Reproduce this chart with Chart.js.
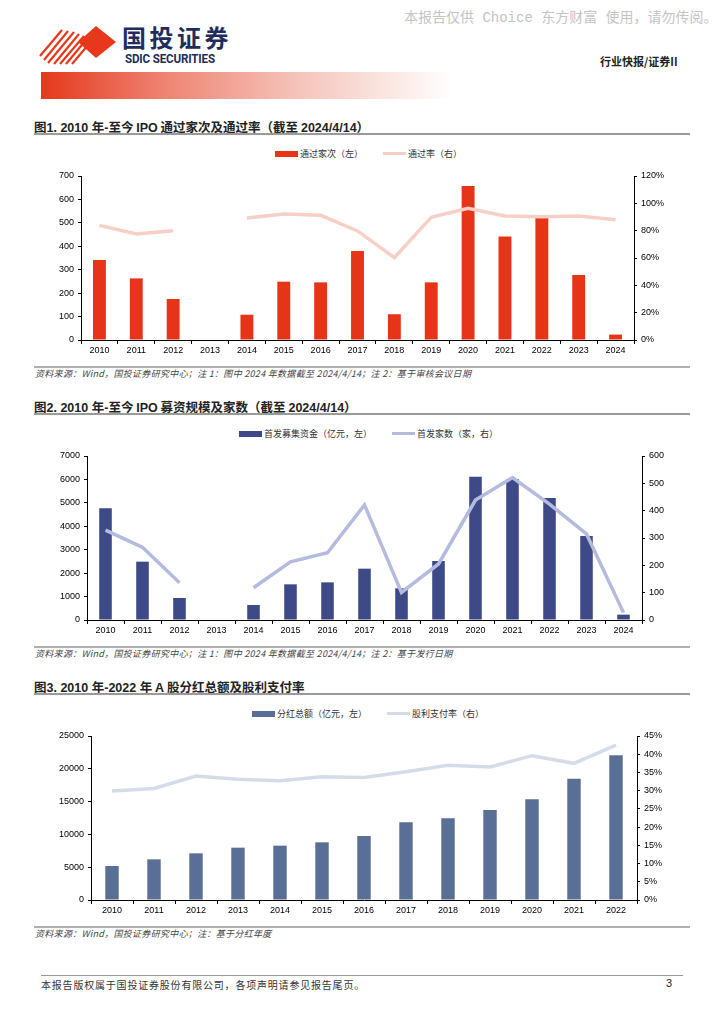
<!DOCTYPE html>
<html lang="zh-CN">
<head>
<meta charset="UTF-8">
<title>行业快报 | 证券II</title>
<script src="https://cdn.jsdelivr.net/npm/chart.js"></script>
<style>
  body { margin:0; width:724px; height:1024px; position:relative; background:#fff; overflow:hidden;
         font-family:"Noto Sans CJK SC", sans-serif; color:#222; }
  .abs { position:absolute; white-space:nowrap; }
  .marca { left:404px; top:6px; font-family:"Liberation Mono","Noto Sans CJK SC"; font-size:14px; color:#c4c4c4; }
  .nome { left:122px; top:20px; font-size:24px; font-weight:bold; color:#1f2d5c; letter-spacing:3.5px; line-height:34px; }
  .nomeEn { left:125px; top:51px; font-family:Roboto,"Liberation Sans"; font-size:13.5px; font-weight:bold; color:#1f2d5c;
            transform:scaleX(0.86); transform-origin:left top; letter-spacing:-0.2px; line-height:14px; }
  .secao { left:600px; top:53px; font-size:11px; font-weight:bold; color:#222; }
  .faixa { left:41px; top:72px; width:412px; height:27px;
           background:linear-gradient(to right, #e5381c 0%, #ee8472 30%, #f5c3b9 62%, #ffffff 100%); }
  .titulo { left:34px; font-size:12.5px; font-weight:bold; color:#222; }
  .titulo b { font-family:"Liberation Sans"; }
  .linha { left:34px; width:656px; height:2px; background:#9a9a9a; }
  .legenda { font-size:9px; color:#333; display:flex; align-items:center; }
  .legenda i { display:inline-block; width:23px; margin-right:2px; }
  .fonte { left:35px; font-size:9px; font-style:italic; color:#444; letter-spacing:0.3px; }
  .grafico { left:30px; width:660px; height:200px; }
  .rodape { left:41px; top:977px; font-size:10px; color:#333; letter-spacing:0.8px; }
</style>
</head>
<body>
  <div class="abs marca">本报告仅供 Choice 东方财富 使用，请勿传阅。</div>

  <svg class="abs" style="left:0;top:0" width="125" height="70">
    <g stroke="#e8381b" stroke-width="2.2">
      <line x1="40" y1="56" x2="62" y2="30"/>
      <line x1="44" y1="60" x2="68" y2="31"/>
      <line x1="48" y1="63" x2="74" y2="32"/>
      <line x1="54" y1="64" x2="79" y2="34"/>
      <line x1="60" y1="64" x2="84" y2="36"/>
      <line x1="66" y1="64" x2="86" y2="40"/>
      <line x1="72" y1="64" x2="88" y2="45"/>
    </g>
    <polygon points="96,26 116,42 96,58 78,42" fill="#e8381b"/>
  </svg>
  <div class="abs nome">国投证券</div>
  <div class="abs nomeEn">SDIC SECURITIES</div>
  <div class="abs secao">行业快报/证券II</div>
  <div class="abs faixa"></div>

  <!-- grafico 1 -->
  <div class="abs titulo" style="top:117px">图<b>1. 2010 </b>年<b>-</b>至今 <b>IPO</b> 通过家次及通过率（截至 <b>2024/4/14</b>）</div>
  <div class="abs linha" style="top:133px"></div>
  <div class="abs legenda" style="left:275px;top:147px">
    <i style="height:6px;background:#e63419"></i>通过家次（左）
    <i style="height:3px;background:#f8cfc6;margin-left:20px"></i>通过率（右）
  </div>
  <canvas id="chart1" class="abs grafico" style="top:166px" width="660" height="200"></canvas>
  <div class="abs linha" style="top:366px;background:#b0b0b0"></div>
  <div class="abs fonte" style="top:367px">资料来源：Wind，国投证券研究中心；注 1：图中 2024 年数据截至 2024/4/14；注 2：基于审核会议日期</div>

  <!-- grafico 2 -->
  <div class="abs titulo" style="top:397px">图<b>2. 2010 </b>年<b>-</b>至今 <b>IPO</b> 募资规模及家数（截至 <b>2024/4/14</b>）</div>
  <div class="abs linha" style="top:413px"></div>
  <div class="abs legenda" style="left:239px;top:427px">
    <i style="height:6px;background:#3e4a88"></i>首发募集资金（亿元，左）
    <i style="height:3px;background:#b5badf;margin-left:20px"></i>首发家数（家，右）
  </div>
  <canvas id="chart2" class="abs grafico" style="top:446px" width="660" height="200"></canvas>
  <div class="abs linha" style="top:646px;background:#b0b0b0"></div>
  <div class="abs fonte" style="top:647px">资料来源：Wind，国投证券研究中心；注 1：图中 2024 年数据截至 2024/4/14；注 2：基于发行日期</div>

  <!-- grafico 3 -->
  <div class="abs titulo" style="top:677px">图<b>3. 2010 </b>年<b>-2022 </b>年 <b>A</b> 股分红总额及股利支付率</div>
  <div class="abs linha" style="top:693px"></div>
  <div class="abs legenda" style="left:252px;top:707px">
    <i style="height:6px;background:#5a6f96"></i>分红总额（亿元，左）
    <i style="height:3px;background:#d5dce9;margin-left:20px"></i>股利支付率（右）
  </div>
  <canvas id="chart3" class="abs grafico" style="top:726px" width="660" height="200"></canvas>
  <div class="abs linha" style="top:926px;background:#b0b0b0"></div>
  <div class="abs fonte" style="top:927px">资料来源：Wind，国投证券研究中心；注：基于分红年度</div>

  <div class="abs" style="left:41px;top:975px;width:642px;height:1px;background:#999"></div>
  <div class="abs rodape">本报告版权属于国投证券股份有限公司，各项声明请参见报告尾页。</div>
  <div class="abs" style="left:666px;top:977px;font-size:11px;font-family:'Liberation Sans'">3</div>

<script>
  // dados
  const anos = ['2010','2011','2012','2013','2014','2015','2016','2017','2018','2019','2020','2021','2022','2023','2024']
  const ipoAprovados = [341, 263, 175, null, 108, 249, 246, 380, 110, 246, 657, 442, 521, 277, 23]
  const taxaAprovacao = [83.9, 77.6, 80.0, null, 89.3, 92.2, 91.2, 79.8, 60.2, 89.8, 96.3, 90.7, 90.2, 90.7, 88.0]

  const ipoCaptacao = [4767, 2490, 939, null, 640, 1522, 1607, 2191, 1352, 2518, 6118, 6018, 5207, 3585, 228]
  const ipoEmpresas = [329, 266, 136, null, 118, 213, 246, 421, 101, 205, 439, 521, 424, 315, 27]

  const anosDividendo = ['2010','2011','2012','2013','2014','2015','2016','2017','2018','2019','2020','2021','2022']
  const dividendoTotal = [5183, 6199, 7114, 7977, 8283, 8791, 9756, 11839, 12449, 13720, 15346, 18496, 22053]
  const payout = [29.9, 30.6, 34.0, 33.1, 32.7, 33.8, 33.6, 35.2, 37.0, 36.5, 39.6, 37.5, 42.5]

  const eixo1 = { max: 700, passo: 100, maxDir: 120, passoDir: 20 }
  const eixo2 = { max: 7000, passo: 1000, maxDir: 600, passoDir: 100 }
  const eixo3 = { max: 25000, passo: 5000, maxDir: 45, passoDir: 5 }

  const fonte = { family: 'Liberation Sans', size: 9 }

  function opcoes(eixo, larguraEsq, larguraDir, sufixo) {
    return {
      responsive: false,
      animation: false,
      layout: { padding: { top: 10, left: 0, right: 0, bottom: 0 } },
      plugins: { legend: { display: false }, tooltip: { enabled: false } },
      scales: {
        x: {
          offset: true,
          grid: { display: true, drawOnChartArea: false, offset: true, tickLength: 4, color: '#000' },
          border: { color: '#000' },
          ticks: { color: '#000', font: fonte, padding: 1, maxRotation: 0, autoSkip: false },
          afterFit: (s) => { s.height = 26 }
        },
        y: {
          position: 'left',
          min: 0, max: eixo.max,
          grid: { drawOnChartArea: false, tickLength: 3, color: '#000' },
          border: { color: '#000' },
          ticks: { stepSize: eixo.passo, color: '#000', font: fonte, padding: 4,
                   callback: (v) => String(v) },
          afterFit: (s) => { s.width = larguraEsq }
        },
        y1: {
          position: 'right',
          min: 0, max: eixo.maxDir,
          grid: { drawOnChartArea: false, tickLength: 3, color: '#000' },
          border: { color: '#000' },
          ticks: { stepSize: eixo.passoDir, color: '#000', font: fonte, padding: 4,
                   callback: (v) => v + sufixo },
          afterFit: (s) => { s.width = larguraDir }
        }
      }
    }
  }

  const chart1 = new Chart(document.getElementById('chart1'), {
    data: {
      labels: anos,
      datasets: [{
        type: 'line', data: taxaAprovacao, yAxisID: 'y1', order: 0,
        borderColor: '#f8cfc6', borderWidth: 3.5, pointRadius: 0, spanGaps: false, tension: 0
      }, {
        type: 'bar', data: ipoAprovados, yAxisID: 'y', order: 1,
        backgroundColor: '#e63419', barPercentage: 0.35, categoryPercentage: 1
      }]
    },
    options: opcoes(eixo1, 51, 56, '%')
  })

  const chart2 = new Chart(document.getElementById('chart2'), {
    data: {
      labels: anos,
      datasets: [{
        type: 'line', data: ipoEmpresas, yAxisID: 'y1', order: 0,
        borderColor: '#b5badf', borderWidth: 3.5, pointRadius: 0, spanGaps: false, tension: 0
      }, {
        type: 'bar', data: ipoCaptacao, yAxisID: 'y', order: 1,
        backgroundColor: '#3e4a88', barPercentage: 0.34, categoryPercentage: 1
      }]
    },
    options: opcoes(eixo2, 57, 48, '')
  })

  const chart3 = new Chart(document.getElementById('chart3'), {
    data: {
      labels: anosDividendo,
      datasets: [{
        type: 'line', data: payout, yAxisID: 'y1', order: 0,
        borderColor: '#d5dce9', borderWidth: 3.5, pointRadius: 0, tension: 0
      }, {
        type: 'bar', data: dividendoTotal, yAxisID: 'y', order: 1,
        backgroundColor: '#5a6f96', barPercentage: 0.32, categoryPercentage: 1
      }]
    },
    options: opcoes(eixo3, 61, 53, '%')
  })
</script>
</body>
</html>
